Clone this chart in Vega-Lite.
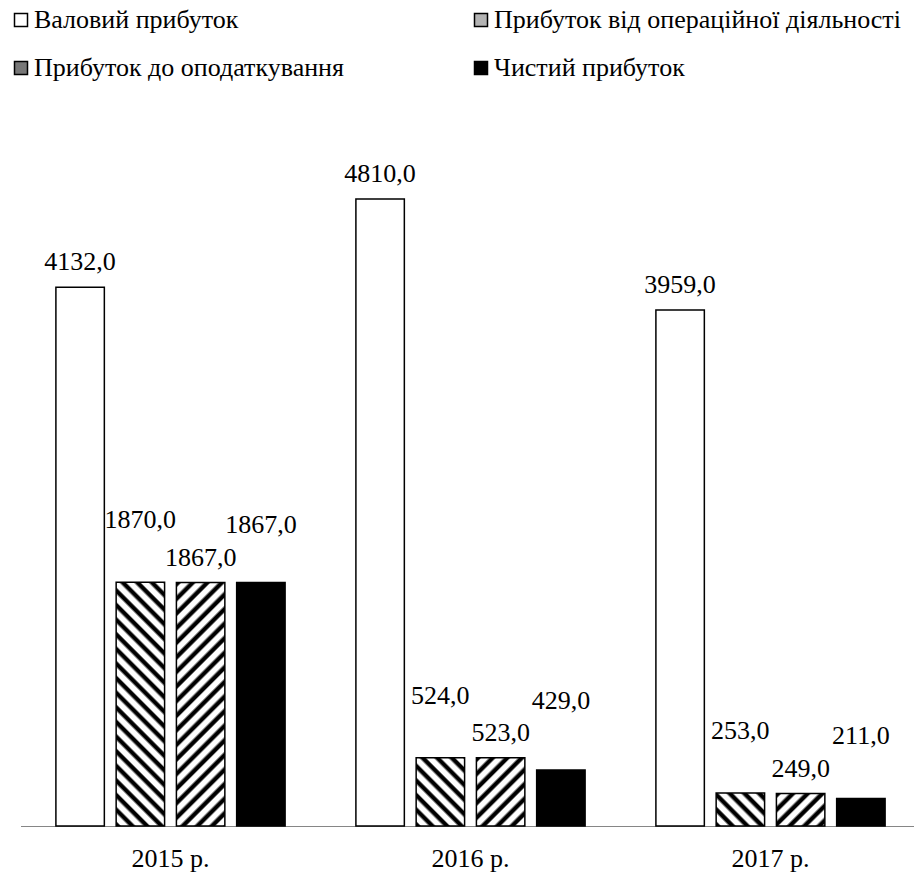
{
  "$schema": "https://vega.github.io/schema/vega-lite/v6.json",
  "width": 894,
  "height": 717,
  "autosize": "none",
  "padding": {"left": 20, "top": 109, "right": 0, "bottom": 49},
  "config": {
    "view": {"stroke": null},
    "font": "Liberation Serif",
    "locale": {"number": {"decimal": ",", "thousands": " ", "grouping": [3], "currency": ["", ""]}}
  },
  "data": {
    "values": [
      {"year": "2015 р.", "series": "Валовий прибуток", "value": 4132},
      {"year": "2015 р.", "series": "Прибуток від операційної діяльності", "value": 1870},
      {"year": "2015 р.", "series": "Прибуток до оподаткування", "value": 1867},
      {"year": "2015 р.", "series": "Чистий прибуток", "value": 1867},
      {"year": "2016 р.", "series": "Валовий прибуток", "value": 4810},
      {"year": "2016 р.", "series": "Прибуток від операційної діяльності", "value": 524},
      {"year": "2016 р.", "series": "Прибуток до оподаткування", "value": 523},
      {"year": "2016 р.", "series": "Чистий прибуток", "value": 429},
      {"year": "2017 р.", "series": "Валовий прибуток", "value": 3959},
      {"year": "2017 р.", "series": "Прибуток від операційної діяльності", "value": 253},
      {"year": "2017 р.", "series": "Прибуток до оподаткування", "value": 249},
      {"year": "2017 р.", "series": "Чистий прибуток", "value": 211}
    ]
  },
  "encoding": {
    "x": {
      "field": "year", "type": "nominal", "sort": ["2015 р.", "2016 р.", "2017 р."],
      "scale": {"range": [0.5, 900.5], "paddingInner": 0, "paddingOuter": 0},
      "axis": {"title": null, "labelAngle": 0, "ticks": false, "domainColor": "#868686", "domainWidth": 1, "labelFont": "Liberation Serif", "labelFontSize": 26, "labelColor": "#000", "labelPadding": 19}
    },
    "xOffset": {
      "field": "series", "type": "nominal",
      "scale": {"domain": ["Валовий прибуток", "Прибуток від операційної діяльності", "Прибуток до оподаткування", "Чистий прибуток"], "paddingInner": 0.196, "paddingOuter": 0.5875}
    }
  },
  "layer": [
    {
      "mark": {"type": "bar", "stroke": "#000", "strokeWidth": 1.5},
      "encoding": {
        "y": {"field": "value", "type": "quantitative", "scale": {"domain": [0, 5500], "nice": false}, "axis": null},
        "fill": {
          "field": "series", "type": "nominal",
          "scale": {"domain": ["Валовий прибуток", "Прибуток від операційної діяльності", "Прибуток до оподаткування", "Чистий прибуток"], "range": ["#fff", "#b4b4b4", "#777", "#000"]},
          "legend": {
            "orient": "none", "direction": "horizontal", "legendX": -12, "legendY": -102, "columns": 2, "columnPadding": 124, "rowPadding": 22,
            "title": null, "symbolType": "square", "symbolSize": 169, "symbolStrokeColor": "#000", "symbolStrokeWidth": 1.5,
            "labelFont": "Liberation Serif", "labelFontSize": 26, "labelColor": "#000", "labelOffset": 0, "labelLimit": 600, "padding": 0
          },
          "condition": [
            {"test": "datum.series === 'Прибуток від операційної діяльності' && datum.year === '2015 р.'", "value": {"gradient": "linear", "x1": 0, "y1": 1, "x2": 0.2296, "y2": -0.1534, "stops": [
              {"offset": 0, "color": "#000"}, {"offset": 0.0125, "color": "#000"}, {"offset": 0.02, "color": "#fff"}, {"offset": 0.04, "color": "#fff"},
              {"offset": 0.05, "color": "#000"}, {"offset": 0.0625, "color": "#000"}, {"offset": 0.07, "color": "#fff"}, {"offset": 0.09, "color": "#fff"},
              {"offset": 0.1, "color": "#000"}, {"offset": 0.1125, "color": "#000"}, {"offset": 0.12, "color": "#fff"}, {"offset": 0.14, "color": "#fff"},
              {"offset": 0.15, "color": "#000"}, {"offset": 0.1625, "color": "#000"}, {"offset": 0.17, "color": "#fff"}, {"offset": 0.19, "color": "#fff"},
              {"offset": 0.2, "color": "#000"}, {"offset": 0.2125, "color": "#000"}, {"offset": 0.22, "color": "#fff"}, {"offset": 0.24, "color": "#fff"},
              {"offset": 0.25, "color": "#000"}, {"offset": 0.2625, "color": "#000"}, {"offset": 0.27, "color": "#fff"}, {"offset": 0.29, "color": "#fff"},
              {"offset": 0.3, "color": "#000"}, {"offset": 0.3125, "color": "#000"}, {"offset": 0.32, "color": "#fff"}, {"offset": 0.34, "color": "#fff"},
              {"offset": 0.35, "color": "#000"}, {"offset": 0.3625, "color": "#000"}, {"offset": 0.37, "color": "#fff"}, {"offset": 0.39, "color": "#fff"},
              {"offset": 0.4, "color": "#000"}, {"offset": 0.4125, "color": "#000"}, {"offset": 0.42, "color": "#fff"}, {"offset": 0.44, "color": "#fff"},
              {"offset": 0.45, "color": "#000"}, {"offset": 0.4625, "color": "#000"}, {"offset": 0.47, "color": "#fff"}, {"offset": 0.49, "color": "#fff"},
              {"offset": 0.5, "color": "#000"}, {"offset": 0.5125, "color": "#000"}, {"offset": 0.52, "color": "#fff"}, {"offset": 0.54, "color": "#fff"},
              {"offset": 0.55, "color": "#000"}, {"offset": 0.5625, "color": "#000"}, {"offset": 0.57, "color": "#fff"}, {"offset": 0.59, "color": "#fff"},
              {"offset": 0.6, "color": "#000"}, {"offset": 0.6125, "color": "#000"}, {"offset": 0.62, "color": "#fff"}, {"offset": 0.64, "color": "#fff"},
              {"offset": 0.65, "color": "#000"}, {"offset": 0.6625, "color": "#000"}, {"offset": 0.67, "color": "#fff"}, {"offset": 0.69, "color": "#fff"},
              {"offset": 0.7, "color": "#000"}, {"offset": 0.7125, "color": "#000"}, {"offset": 0.72, "color": "#fff"}, {"offset": 0.74, "color": "#fff"},
              {"offset": 0.75, "color": "#000"}, {"offset": 0.7625, "color": "#000"}, {"offset": 0.77, "color": "#fff"}, {"offset": 0.79, "color": "#fff"},
              {"offset": 0.8, "color": "#000"}, {"offset": 0.8125, "color": "#000"}, {"offset": 0.82, "color": "#fff"}, {"offset": 0.84, "color": "#fff"},
              {"offset": 0.85, "color": "#000"}, {"offset": 0.8625, "color": "#000"}, {"offset": 0.87, "color": "#fff"}, {"offset": 0.89, "color": "#fff"},
              {"offset": 0.9, "color": "#000"}, {"offset": 0.9125, "color": "#000"}, {"offset": 0.92, "color": "#fff"}, {"offset": 0.94, "color": "#fff"},
              {"offset": 0.95, "color": "#000"}, {"offset": 0.9625, "color": "#000"}, {"offset": 0.97, "color": "#fff"}, {"offset": 0.99, "color": "#fff"},
              {"offset": 1, "color": "#000"}]}},
            {"test": "datum.series === 'Прибуток до оподаткування' && datum.year === '2015 р.'", "value": {"gradient": "linear", "x1": 0, "y1": 0, "x2": 0.2296, "y2": 1.1534, "stops": [
              {"offset": 0, "color": "#000"}, {"offset": 0.0125, "color": "#000"}, {"offset": 0.02, "color": "#fff"}, {"offset": 0.04, "color": "#fff"},
              {"offset": 0.05, "color": "#000"}, {"offset": 0.0625, "color": "#000"}, {"offset": 0.07, "color": "#fff"}, {"offset": 0.09, "color": "#fff"},
              {"offset": 0.1, "color": "#000"}, {"offset": 0.1125, "color": "#000"}, {"offset": 0.12, "color": "#fff"}, {"offset": 0.14, "color": "#fff"},
              {"offset": 0.15, "color": "#000"}, {"offset": 0.1625, "color": "#000"}, {"offset": 0.17, "color": "#fff"}, {"offset": 0.19, "color": "#fff"},
              {"offset": 0.2, "color": "#000"}, {"offset": 0.2125, "color": "#000"}, {"offset": 0.22, "color": "#fff"}, {"offset": 0.24, "color": "#fff"},
              {"offset": 0.25, "color": "#000"}, {"offset": 0.2625, "color": "#000"}, {"offset": 0.27, "color": "#fff"}, {"offset": 0.29, "color": "#fff"},
              {"offset": 0.3, "color": "#000"}, {"offset": 0.3125, "color": "#000"}, {"offset": 0.32, "color": "#fff"}, {"offset": 0.34, "color": "#fff"},
              {"offset": 0.35, "color": "#000"}, {"offset": 0.3625, "color": "#000"}, {"offset": 0.37, "color": "#fff"}, {"offset": 0.39, "color": "#fff"},
              {"offset": 0.4, "color": "#000"}, {"offset": 0.4125, "color": "#000"}, {"offset": 0.42, "color": "#fff"}, {"offset": 0.44, "color": "#fff"},
              {"offset": 0.45, "color": "#000"}, {"offset": 0.4625, "color": "#000"}, {"offset": 0.47, "color": "#fff"}, {"offset": 0.49, "color": "#fff"},
              {"offset": 0.5, "color": "#000"}, {"offset": 0.5125, "color": "#000"}, {"offset": 0.52, "color": "#fff"}, {"offset": 0.54, "color": "#fff"},
              {"offset": 0.55, "color": "#000"}, {"offset": 0.5625, "color": "#000"}, {"offset": 0.57, "color": "#fff"}, {"offset": 0.59, "color": "#fff"},
              {"offset": 0.6, "color": "#000"}, {"offset": 0.6125, "color": "#000"}, {"offset": 0.62, "color": "#fff"}, {"offset": 0.64, "color": "#fff"},
              {"offset": 0.65, "color": "#000"}, {"offset": 0.6625, "color": "#000"}, {"offset": 0.67, "color": "#fff"}, {"offset": 0.69, "color": "#fff"},
              {"offset": 0.7, "color": "#000"}, {"offset": 0.7125, "color": "#000"}, {"offset": 0.72, "color": "#fff"}, {"offset": 0.74, "color": "#fff"},
              {"offset": 0.75, "color": "#000"}, {"offset": 0.7625, "color": "#000"}, {"offset": 0.77, "color": "#fff"}, {"offset": 0.79, "color": "#fff"},
              {"offset": 0.8, "color": "#000"}, {"offset": 0.8125, "color": "#000"}, {"offset": 0.82, "color": "#fff"}, {"offset": 0.84, "color": "#fff"},
              {"offset": 0.85, "color": "#000"}, {"offset": 0.8625, "color": "#000"}, {"offset": 0.87, "color": "#fff"}, {"offset": 0.89, "color": "#fff"},
              {"offset": 0.9, "color": "#000"}, {"offset": 0.9125, "color": "#000"}, {"offset": 0.92, "color": "#fff"}, {"offset": 0.94, "color": "#fff"},
              {"offset": 0.95, "color": "#000"}, {"offset": 0.9625, "color": "#000"}, {"offset": 0.97, "color": "#fff"}, {"offset": 0.99, "color": "#fff"},
              {"offset": 1, "color": "#000"}]}},
            {"test": "datum.series === 'Прибуток від операційної діяльності' && datum.year === '2016 р.'", "value": {"gradient": "linear", "x1": 0, "y1": 1, "x2": 0.8077, "y2": -0.1366, "stops": [
              {"offset": 0, "color": "#000"}, {"offset": 0.03125, "color": "#000"}, {"offset": 0.05, "color": "#fff"}, {"offset": 0.1, "color": "#fff"},
              {"offset": 0.125, "color": "#000"}, {"offset": 0.15625, "color": "#000"}, {"offset": 0.175, "color": "#fff"}, {"offset": 0.225, "color": "#fff"},
              {"offset": 0.25, "color": "#000"}, {"offset": 0.28125, "color": "#000"}, {"offset": 0.3, "color": "#fff"}, {"offset": 0.35, "color": "#fff"},
              {"offset": 0.375, "color": "#000"}, {"offset": 0.40625, "color": "#000"}, {"offset": 0.425, "color": "#fff"}, {"offset": 0.475, "color": "#fff"},
              {"offset": 0.5, "color": "#000"}, {"offset": 0.53125, "color": "#000"}, {"offset": 0.55, "color": "#fff"}, {"offset": 0.6, "color": "#fff"},
              {"offset": 0.625, "color": "#000"}, {"offset": 0.65625, "color": "#000"}, {"offset": 0.675, "color": "#fff"}, {"offset": 0.725, "color": "#fff"},
              {"offset": 0.75, "color": "#000"}, {"offset": 0.78125, "color": "#000"}, {"offset": 0.8, "color": "#fff"}, {"offset": 0.85, "color": "#fff"},
              {"offset": 0.875, "color": "#000"}, {"offset": 0.90625, "color": "#000"}, {"offset": 0.925, "color": "#fff"}, {"offset": 0.975, "color": "#fff"},
              {"offset": 1, "color": "#000"}]}},
            {"test": "datum.series === 'Прибуток до оподаткування' && datum.year === '2016 р.'", "value": {"gradient": "linear", "x1": 0, "y1": 0, "x2": 0.8077, "y2": 1.1366, "stops": [
              {"offset": 0, "color": "#000"}, {"offset": 0.03125, "color": "#000"}, {"offset": 0.05, "color": "#fff"}, {"offset": 0.1, "color": "#fff"},
              {"offset": 0.125, "color": "#000"}, {"offset": 0.15625, "color": "#000"}, {"offset": 0.175, "color": "#fff"}, {"offset": 0.225, "color": "#fff"},
              {"offset": 0.25, "color": "#000"}, {"offset": 0.28125, "color": "#000"}, {"offset": 0.3, "color": "#fff"}, {"offset": 0.35, "color": "#fff"},
              {"offset": 0.375, "color": "#000"}, {"offset": 0.40625, "color": "#000"}, {"offset": 0.425, "color": "#fff"}, {"offset": 0.475, "color": "#fff"},
              {"offset": 0.5, "color": "#000"}, {"offset": 0.53125, "color": "#000"}, {"offset": 0.55, "color": "#fff"}, {"offset": 0.6, "color": "#fff"},
              {"offset": 0.625, "color": "#000"}, {"offset": 0.65625, "color": "#000"}, {"offset": 0.675, "color": "#fff"}, {"offset": 0.725, "color": "#fff"},
              {"offset": 0.75, "color": "#000"}, {"offset": 0.78125, "color": "#000"}, {"offset": 0.8, "color": "#fff"}, {"offset": 0.85, "color": "#fff"},
              {"offset": 0.875, "color": "#000"}, {"offset": 0.90625, "color": "#000"}, {"offset": 0.925, "color": "#fff"}, {"offset": 0.975, "color": "#fff"},
              {"offset": 1, "color": "#000"}]}},
            {"test": "datum.series === 'Прибуток від операційної діяльності' && datum.year === '2017 р.'", "value": {"gradient": "linear", "x1": 0, "y1": 1, "x2": 1.1506, "y2": 0.2231, "stops": [
              {"offset": 0, "color": "#000"}, {"offset": 0.04545, "color": "#000"}, {"offset": 0.07273, "color": "#fff"}, {"offset": 0.14545, "color": "#fff"},
              {"offset": 0.18182, "color": "#000"}, {"offset": 0.22727, "color": "#000"}, {"offset": 0.25455, "color": "#fff"}, {"offset": 0.32727, "color": "#fff"},
              {"offset": 0.36364, "color": "#000"}, {"offset": 0.40909, "color": "#000"}, {"offset": 0.43636, "color": "#fff"}, {"offset": 0.50909, "color": "#fff"},
              {"offset": 0.54545, "color": "#000"}, {"offset": 0.59091, "color": "#000"}, {"offset": 0.61818, "color": "#fff"}, {"offset": 0.69091, "color": "#fff"},
              {"offset": 0.72727, "color": "#000"}, {"offset": 0.77273, "color": "#000"}, {"offset": 0.8, "color": "#fff"}, {"offset": 0.87273, "color": "#fff"},
              {"offset": 0.90909, "color": "#000"}, {"offset": 0.95455, "color": "#000"}, {"offset": 0.98182, "color": "#fff"}, {"offset": 1, "color": "#fff"}]}},
            {"test": "datum.series === 'Прибуток до оподаткування' && datum.year === '2017 р.'", "value": {"gradient": "linear", "x1": 0, "y1": 0, "x2": 1.1506, "y2": 0.777, "stops": [
              {"offset": 0, "color": "#000"}, {"offset": 0.04545, "color": "#000"}, {"offset": 0.07273, "color": "#fff"}, {"offset": 0.14545, "color": "#fff"},
              {"offset": 0.18182, "color": "#000"}, {"offset": 0.22727, "color": "#000"}, {"offset": 0.25455, "color": "#fff"}, {"offset": 0.32727, "color": "#fff"},
              {"offset": 0.36364, "color": "#000"}, {"offset": 0.40909, "color": "#000"}, {"offset": 0.43636, "color": "#fff"}, {"offset": 0.50909, "color": "#fff"},
              {"offset": 0.54545, "color": "#000"}, {"offset": 0.59091, "color": "#000"}, {"offset": 0.61818, "color": "#fff"}, {"offset": 0.69091, "color": "#fff"},
              {"offset": 0.72727, "color": "#000"}, {"offset": 0.77273, "color": "#000"}, {"offset": 0.8, "color": "#fff"}, {"offset": 0.87273, "color": "#fff"},
              {"offset": 0.90909, "color": "#000"}, {"offset": 0.95455, "color": "#000"}, {"offset": 0.98182, "color": "#fff"}, {"offset": 1, "color": "#fff"}]}}
          ]
        }
      }
    },
    {
      "transform": [{"filter": "datum.series === 'Валовий прибуток' || datum.series === 'Прибуток до оподаткування'"}],
      "mark": {"type": "text", "font": "Liberation Serif", "fontSize": 26, "color": "#000", "baseline": "middle", "dy": -25},
      "encoding": {
        "y": {"field": "value", "type": "quantitative", "axis": null},
        "text": {"field": "value", "type": "quantitative", "format": ".1f"}
      }
    },
    {
      "transform": [{"filter": "datum.series === 'Прибуток від операційної діяльності'"}],
      "mark": {"type": "text", "font": "Liberation Serif", "fontSize": 26, "color": "#000", "baseline": "middle", "dy": -62},
      "encoding": {
        "y": {"field": "value", "type": "quantitative", "axis": null},
        "text": {"field": "value", "type": "quantitative", "format": ".1f"}
      }
    },
    {
      "transform": [
        {"filter": "datum.series !== 'Валовий прибуток'"},
        {"joinaggregate": [{"op": "max", "field": "value", "as": "ref"}], "groupby": ["year"]},
        {"filter": "datum.series === 'Чистий прибуток'"}
      ],
      "mark": {"type": "text", "font": "Liberation Serif", "fontSize": 26, "color": "#000", "baseline": "middle", "dy": -57},
      "encoding": {
        "y": {"field": "ref", "type": "quantitative", "axis": null},
        "text": {"field": "value", "type": "quantitative", "format": ".1f"}
      }
    }
  ]
}
